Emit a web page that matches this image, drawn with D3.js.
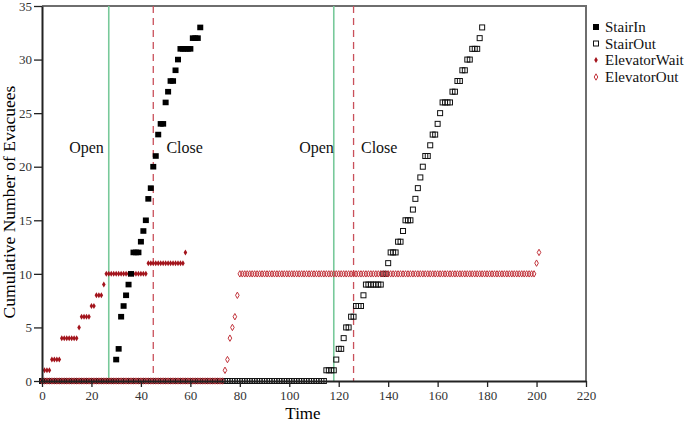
<!DOCTYPE html>
<html lang="en">
<head>
<meta charset="UTF-8">
<script src="https://d3js.org/d3.v7.min.js"></script>
<title>Evacuees</title>
<style>
  body { margin: 0; background: #fff; }
  text { font-family: "Liberation Serif", "Times New Roman", serif; }
</style>
</head>
<body>
<script>
// one value per second, starting at t = 0
var stairIn = [
  0,0,0,0,0,0,0,0,0,0, 0,0,0,0,0,0,0,0,0,0, 0,0,0,0,0,0,0,0,0,0,
  2,3,6,7,8,9,10,12,12,12, 13,14,15,17,18,20,21,23,24,24,
  26,27,28,28,29,30,31,31,31,31, 31,32,32,32,33
];
var stairOut = [
  0,0,0,0,0,0,0,0,0,0, 0,0,0,0,0,0,0,0,0,0,
  0,0,0,0,0,0,0,0,0,0, 0,0,0,0,0,0,0,0,0,0,
  0,0,0,0,0,0,0,0,0,0, 0,0,0,0,0,0,0,0,0,0,
  0,0,0,0,0,0,0,0,0,0, 0,0,0,0,0,0,0,0,0,0,
  0,0,0,0,0,0,0,0,0,0, 0,0,0,0,0,0,0,0,0,0,
  0,0,0,0,0,0,0,0,0,0, 0,0,0,0,0,
  1,1,1,1,2,3,3,4,5,5, 6,6,7,7,7,8,9,9,9,9, 9,9,9,10,10,11,12,12,12,13,
  13,14,15,15,15,16,17,18,19,20, 21,21,22,23,23,24,25,26,26,26,
  26,27,27,28,28,29,29,30,30,31, 31,31,32,33
];
var elevatorWait = [
  0,1,1,1,2,2,2,2,4,4, 4,4,4,4,4,5,6,6,6,6, 7,7,8,8,8,9,10,10,10,10,
  10,10,10,10,10,10,10,10,10,10, 10,10,10,11,11,11,11,11,11,11,
  11,11,11,11,11,11,11,11,12
];
var elevatorOut = [
  0,0,0,0,0,0,0,0,0,0, 0,0,0,0,0,0,0,0,0,0,
  0,0,0,0,0,0,0,0,0,0, 0,0,0,0,0,0,0,0,0,0,
  0,0,0,0,0,0,0,0,0,0, 0,0,0,0,0,0,0,0,0,0,
  0,0,0,0,0,0,0,0,0,0, 0,0,0,0,
  1,2,4,5,6,8,
  10,10,10,10,10,10,10,10,10,10, 10,10,10,10,10,10,10,10,10,10,
  10,10,10,10,10,10,10,10,10,10, 10,10,10,10,10,10,10,10,10,10,
  10,10,10,10,10,10,10,10,10,10, 10,10,10,10,10,10,10,10,10,10,
  10,10,10,10,10,10,10,10,10,10, 10,10,10,10,10,10,10,10,10,10,
  10,10,10,10,10,10,10,10,10,10, 10,10,10,10,10,10,10,10,10,10,
  10,10,10,10,10,10,10,10,10,10, 10,10,10,10,10,10,10,10,10,10,
  11,12
];
var seriesNames = ["StairIn", "StairOut", "ElevatorWait", "ElevatorOut"];
var openTimes = [27, 118];
var closeTimes = [45, 126];
var phaseLabels = ["Open", "Close", "Open", "Close"];
var phaseLabelX = [11, 50.3, 104, 129];
var phaseLabelY = 21.3;
var xTicks = [0, 20, 40, 60, 80, 100, 120, 140, 160, 180, 200, 220];
var yTicks = [0, 5, 10, 15, 20, 25, 30, 35];

var W = 685, H = 425;
var m = {left: 42, right: 99, top: 6, bottom: 44};

var svg = d3.select("body").append("svg").attr("width", W).attr("height", H);

var x = d3.scaleLinear().domain([0, 220]).range([m.left, W - m.right]);
var y = d3.scaleLinear().domain([0, 35]).range([H - m.bottom, m.top]);

// frame (top/right)
svg.append("path")
  .attr("d", "M" + x(0) + "," + y(35) + "H" + x(220) + "V" + y(0))
  .attr("fill", "none").attr("stroke", "#6e6e6e").attr("stroke-width", 2);

// door open / close lines
svg.selectAll("line.open").data(openTimes).enter().append("line")
  .attr("class", "open")
  .attr("x1", function(d){ return x(d); }).attr("x2", function(d){ return x(d); })
  .attr("y1", y(35)).attr("y2", y(0))
  .attr("stroke", "#78c99a").attr("stroke-width", 1.6);
svg.selectAll("line.close").data(closeTimes).enter().append("line")
  .attr("class", "close")
  .attr("x1", function(d){ return x(d); }).attr("x2", function(d){ return x(d); })
  .attr("y1", y(35)).attr("y2", y(0))
  .attr("stroke", "#c9505a").attr("stroke-width", 1.3)
  .attr("stroke-dasharray", "7,5");

svg.selectAll("text.phase").data(phaseLabels).enter().append("text")
  .attr("class", "phase")
  .attr("x", function(d, i){ return x(phaseLabelX[i]); })
  .attr("y", y(phaseLabelY))
  .attr("font-size", 16).attr("fill", "#111")
  .text(function(d){ return d; });

// markers
function diamond(w, h) {
  return "M0," + (-h/2) + "L" + (w/2) + ",0L0," + (h/2) + "L" + (-w/2) + ",0Z";
}
function points(arr) {
  return arr.map(function(v, i){ return {t: i, v: v}; });
}

svg.append("g").selectAll("path").data(points(elevatorWait)).enter().append("path")
  .attr("d", diamond(3.6, 6))
  .attr("transform", function(d){ return "translate(" + x(d.t) + "," + y(d.v) + ")"; })
  .attr("fill", "#a3141c");

svg.append("g").selectAll("rect").data(points(stairIn)).enter().append("rect")
  .attr("x", function(d){ return x(d.t) - 3; })
  .attr("y", function(d){ return y(d.v) - 2.8; })
  .attr("width", 6).attr("height", 5.6)
  .attr("fill", "#000");

svg.append("g").selectAll("rect").data(points(stairOut)).enter().append("rect")
  .attr("x", function(d){ return x(d.t) - 2.5; })
  .attr("y", function(d){ return y(d.v) - 2.5; })
  .attr("width", 5).attr("height", 5)
  .attr("fill", "none").attr("stroke", "#111").attr("stroke-width", 1);

svg.append("g").selectAll("path").data(points(elevatorOut)).enter().append("path")
  .attr("d", diamond(3.6, 6.4))
  .attr("transform", function(d){ return "translate(" + x(d.t) + "," + y(d.v) + ")"; })
  .attr("fill", "none").attr("stroke", "#c2343c").attr("stroke-width", 1);

// axes
var xAxis = svg.append("g").attr("transform", "translate(0," + y(0) + ")")
  .call(d3.axisBottom(x).tickValues(xTicks).tickSizeInner(6).tickSizeOuter(0).tickPadding(4));
var yAxis = svg.append("g").attr("transform", "translate(" + x(0) + ",0)")
  .call(d3.axisLeft(y).tickValues(yTicks).tickSizeInner(8).tickSizeOuter(0).tickPadding(2));
[xAxis, yAxis].forEach(function(g){
  g.select(".domain").attr("stroke", "#222").attr("stroke-width", 2);
  g.selectAll(".tick line").attr("stroke", "#222").attr("stroke-width", 1.3);
  g.selectAll(".tick text").attr("font-family", "Liberation Serif, serif")
    .attr("font-size", 13).attr("fill", "#333");
});

svg.append("text").attr("x", 303).attr("y", 419)
  .attr("text-anchor", "middle").attr("font-size", 17).text("Time");
svg.append("text")
  .attr("transform", "translate(15,202) rotate(-90)")
  .attr("text-anchor", "middle").attr("font-size", 17.5)
  .text("Cumulative Number of Evacuees");

// legend
var legend = svg.append("g").attr("transform", "translate(596,0)");
var legY = [27, 43.5, 60, 77];
legend.append("rect").attr("x", -3).attr("y", legY[0] - 3).attr("width", 6).attr("height", 6).attr("fill", "#000");
legend.append("rect").attr("x", -2.5).attr("y", legY[1] - 2.5).attr("width", 5).attr("height", 5)
  .attr("fill", "none").attr("stroke", "#111");
legend.append("path").attr("d", diamond(3.6, 6)).attr("transform", "translate(0," + legY[2] + ")").attr("fill", "#a3141c");
legend.append("path").attr("d", diamond(3.6, 6.4)).attr("transform", "translate(0," + legY[3] + ")")
  .attr("fill", "none").attr("stroke", "#c2343c");
legend.selectAll("text").data(seriesNames).enter().append("text")
  .attr("x", 9).attr("y", function(d, i){ return legY[i] + 5; })
  .attr("font-size", 15).attr("fill", "#111")
  .text(function(d){ return d; });
</script>
</body>
</html>
